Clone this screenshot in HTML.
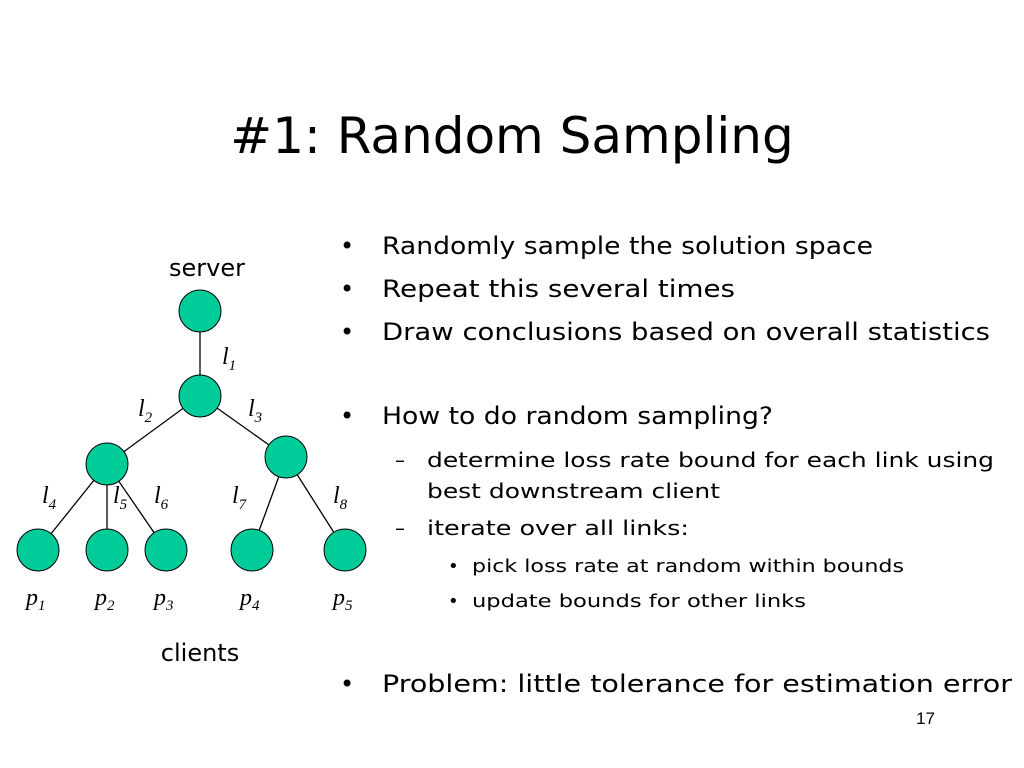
<!DOCTYPE html>
<html><head><meta charset="utf-8"><style>
body{margin:0;width:1024px;height:768px;background:#fff;overflow:hidden}
svg{display:block}
.s{font-family:"DejaVu Sans","Liberation Sans",sans-serif;fill:#000}
.i{font-family:"Liberation Serif",serif;font-style:italic;fill:#000}
</style></head><body>
<svg width="1024" height="768" viewBox="0 0 1024 768">
<text class="s" x="512" y="153" font-size="50" text-anchor="middle">#1: Random Sampling</text>
<g stroke="#000" stroke-width="1.3">
<line x1="200" y1="311" x2="200" y2="396"/>
<line x1="200" y1="396" x2="107" y2="464"/>
<line x1="200" y1="396" x2="286" y2="457"/>
<line x1="107" y1="464" x2="38" y2="550"/>
<line x1="107" y1="464" x2="107" y2="550"/>
<line x1="107" y1="464" x2="166" y2="550"/>
<line x1="286" y1="457" x2="252" y2="550"/>
<line x1="286" y1="457" x2="345" y2="550"/>
</g>
<g fill="#00cc99" stroke="#000" stroke-width="1">
<circle cx="200" cy="311" r="21"/><circle cx="200" cy="396" r="21"/>
<circle cx="107" cy="464" r="21"/><circle cx="286" cy="457" r="21"/>
<circle cx="38" cy="550" r="21"/><circle cx="107" cy="550" r="21"/>
<circle cx="166" cy="550" r="21"/><circle cx="252" cy="550" r="21"/>
<circle cx="345" cy="550" r="21"/>
</g>
<text class="s" x="207" y="276" font-size="24" text-anchor="middle">server</text>
<text class="s" x="200" y="661" font-size="24" text-anchor="middle">clients</text>
<g class="i" font-size="24">
<text x="222" y="364">l<tspan font-size="15" dy="6">1</tspan></text>
<text x="138" y="416">l<tspan font-size="15" dy="6">2</tspan></text>
<text x="248" y="416">l<tspan font-size="15" dy="6">3</tspan></text>
<text x="42" y="503">l<tspan font-size="15" dy="6">4</tspan></text>
<text x="113" y="503">l<tspan font-size="15" dy="6">5</tspan></text>
<text x="154" y="503">l<tspan font-size="15" dy="6">6</tspan></text>
<text x="232" y="503">l<tspan font-size="15" dy="6">7</tspan></text>
<text x="333" y="503">l<tspan font-size="15" dy="6">8</tspan></text>
<text x="26" y="605">p<tspan font-size="15" dy="5">1</tspan></text>
<text x="95" y="605">p<tspan font-size="15" dy="5">2</tspan></text>
<text x="154" y="605">p<tspan font-size="15" dy="5">3</tspan></text>
<text x="240" y="605">p<tspan font-size="15" dy="5">4</tspan></text>
<text x="333" y="605">p<tspan font-size="15" dy="5">5</tspan></text>
</g>
<g class="s" font-size="24">
<text x="340" y="254">•</text><text x="382" y="254" textLength="491" lengthAdjust="spacingAndGlyphs">Randomly sample the solution space</text>
<text x="340" y="297">•</text><text x="382" y="297" textLength="353" lengthAdjust="spacingAndGlyphs">Repeat this several times</text>
<text x="340" y="340">•</text><text x="382" y="340" textLength="608" lengthAdjust="spacingAndGlyphs">Draw conclusions based on overall statistics</text>
<text x="340" y="424">•</text><text x="382" y="424" textLength="391" lengthAdjust="spacingAndGlyphs">How to do random sampling?</text>
<text x="340" y="692">•</text><text x="382" y="692" textLength="630" lengthAdjust="spacingAndGlyphs">Problem: little tolerance for estimation error</text>
</g>
<g class="s" font-size="20">
<text x="395" y="467">–</text><text x="427" y="467" textLength="567" lengthAdjust="spacingAndGlyphs">determine loss rate bound for each link using</text>
<text x="427" y="498" textLength="293" lengthAdjust="spacingAndGlyphs">best downstream client</text>
<text x="395" y="535">–</text><text x="427" y="535" textLength="262" lengthAdjust="spacingAndGlyphs">iterate over all links:</text>
</g>
<g class="s" font-size="18">
<text x="448" y="572">•</text><text x="472" y="572" textLength="432" lengthAdjust="spacingAndGlyphs">pick loss rate at random within bounds</text>
<text x="448" y="607">•</text><text x="472" y="607" textLength="334" lengthAdjust="spacingAndGlyphs">update bounds for other links</text>
</g>
<text x="935" y="724" font-family="Liberation Sans,sans-serif" font-size="17" text-anchor="end">17</text>
</svg>
</body></html>
